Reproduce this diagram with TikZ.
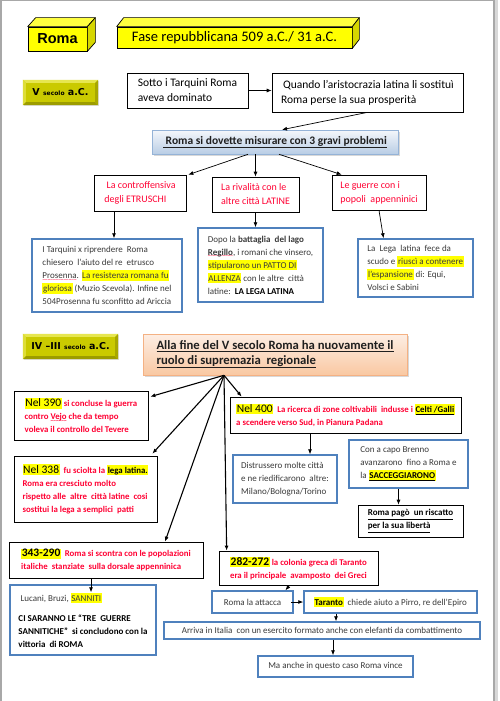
\documentclass[tikz,border=0pt]{standalone}
\usepackage{fontspec}
\setmainfont{Carlito}
\newfontfamily\headfont{Liberation Sans}
\newfontfamily\badgefont{DejaVu Sans}
\usetikzlibrary{arrows.meta,calc,shadows}
\definecolor{CubeYellow}{HTML}{FFFF00}
\definecolor{CubeTop}{HTML}{FFFF40}
\definecolor{CubeSide}{HTML}{D6D600}
\definecolor{OliveFace}{HTML}{CACA00}
\definecolor{OliveLight}{HTML}{E6E650}
\definecolor{OliveDark}{HTML}{9C9C00}
\definecolor{FrameBlue}{HTML}{4F81BD}
\definecolor{AlertRed}{HTML}{FF0033}
\definecolor{MarkYellow}{HTML}{FFFF00}
\definecolor{BodyGray}{HTML}{3A3A3A}
\definecolor{SkyTop}{HTML}{F4F7FB}
\definecolor{SkyBottom}{HTML}{B9CDE5}
\definecolor{SkyLine}{HTML}{95B3D7}
\definecolor{PeachTop}{HTML}{FDEEE4}
\definecolor{PeachBottom}{HTML}{F9C8A2}
\definecolor{PeachLine}{HTML}{F4B183}
\definecolor{PageGray}{HTML}{A8A8A8}

\newcommand{\hlt}[1]{{\setlength{\fboxsep}{0.6pt}\colorbox{MarkYellow}{\vphantom{Ày}#1}}}
\newcommand{\yearmark}[1]{\hlt{\textcolor{black}{\mdseries\fontsize{11.5}{13}\selectfont #1}}}
\newcommand{\yearbold}[1]{\hlt{\textcolor{black}{\bfseries\fontsize{11.5}{13}\selectfont #1}}}
\newcommand{\redwave}[1]{\leavevmode{\setbox0=\hbox{#1}\rlap{\textcolor{AlertRed}{\lower2.8pt\hbox to\wd0{\xleaders\hbox{\fontsize{5}{5}\selectfont\char"7E}\hfill}}}\box0}}

\begin{document}
\begin{tikzpicture}[x=1pt, y=-1pt,
    every node/.style={inner sep=0pt},
    cube/.style={draw, line width=0.7pt, fill=CubeYellow},
    bevel/.style={fill=OliveFace, drop shadow={shadow xshift=1.2pt, shadow yshift=-1.2pt, opacity=0.25}, font=\badgefont\bfseries\fontsize{9.5}{11}\selectfont},
    plainbox/.style={draw, line width=0.7pt, align=left, font=\fontsize{11.5}{15}\selectfont},
    topicbox/.style={draw, line width=0.7pt, align=left, text=AlertRed, font=\fontsize{10}{14}\selectfont},
    notebox/.style={draw=FrameBlue, line width=1.5pt, align=left, text=BodyGray, font=\fontsize{9}{13}\selectfont},
    eventbox/.style={draw, line width=0.7pt, align=left, text=AlertRed, font=\bfseries\fontsize{8.8}{13}\selectfont},
    arr/.style={-{Latex[length=5pt,width=4pt]}, line width=0.7pt},
    fan/.style={arr, line width=1.1pt}
  ]
    \useasboundingbox (0,0) rectangle (500,701);
    \fill[white] (0,0) rectangle (500,701);
    \fill[PageGray!45] (494,0) rectangle (498,701);
    \draw[PageGray, line width=1.5pt] (0.75,701) -- (0.75,0.75) -- (494,0.75) -- (494,701);

    % titles
    \node[cube, minimum width=59, minimum height=24, font=\headfont\bfseries\fontsize{14.5}{16}\selectfont] (roma) at (57.5,39) {Roma};
    \node[cube, minimum width=235, minimum height=21, font=\fontsize{14.5}{16}\selectfont] (fase) at (234.5,37.5) {Fase repubblicana 509 a.C./ 31 a.C.};
    \foreach \b/\dx/\dy in {roma/8/-9, fase/7/-9} {
      \filldraw[fill=CubeTop, line width=0.7pt, line join=round] (\b.north west) -- ++(\dx,\dy) -- ($(\b.north east)+(\dx,\dy)$) -- (\b.north east) -- cycle;
      \filldraw[fill=CubeSide, line width=0.7pt, line join=round] (\b.north east) -- ++(\dx,\dy) -- ($(\b.south east)+(\dx,\dy)$) -- (\b.south east) -- cycle;
    }

    \node[bevel, minimum width=75, minimum height=25] (vsec) at (60.5,92.5) {V {\fontsize{6}{7}\selectfont secolo} a.C.};
    \node[bevel, minimum width=95, minimum height=25] (ivsec) at (70.5,346.5) {IV –III {\fontsize{6}{7}\selectfont secolo} a.C.};
    \foreach \b in {vsec,ivsec} {
      \fill[OliveLight] (\b.north west) -- (\b.north east) -- ($(\b.north east)+(-3,3)$) -- ($(\b.north west)+(3,3)$) -- cycle;
      \fill[OliveLight!70!OliveFace] (\b.north west) -- ($(\b.north west)+(3,3)$) -- ($(\b.south west)+(3,-3)$) -- (\b.south west) -- cycle;
      \fill[OliveDark] (\b.south west) -- ($(\b.south west)+(3,-3)$) -- ($(\b.south east)+(-3,-3)$) -- (\b.south east) -- cycle;
      \fill[OliveDark!75!OliveFace] (\b.north east) -- (\b.south east) -- ($(\b.south east)+(-3,-3)$) -- ($(\b.north east)+(-3,3)$) -- cycle;
    }

    % V secolo
    \node[plainbox, minimum width=121, minimum height=35] (sotto) at (187.5,90.5) {Sotto i Tarquini Roma\\aveva dominato};
    \node[plainbox, minimum width=191, minimum height=39] (quando) at (367.5,92.5) {\,Quando l’aristocrazia latina li sostituì\\Roma perse la sua prosperità};
    \node[draw=SkyLine, line width=0.6pt, top color=SkyTop, bottom color=SkyBottom, drop shadow={shadow xshift=1.5pt, shadow yshift=-1.5pt, opacity=0.3}, minimum width=246, minimum height=24, text=black!88, font=\bfseries\fontsize{11.5}{13}\selectfont] (problemi) at (275,142) {\underline{\ Roma si dovette misurare con 3 gravi problemi}};

    \node[topicbox, minimum width=92, minimum height=36] (contro) at (140,193) {\ La controffensiva\\degli ETRUSCHI};
    \node[topicbox, minimum width=87, minimum height=35] (rival) at (255.5,194.5) {La rivalità con le\\altre città LATINE};
    \node[topicbox, minimum width=94, minimum height=35] (guerre) at (379,192.5) {Le guerre con i\\popoli\ \ appenninici};

    \node[notebox, minimum width=150, minimum height=73] (tarq) at (107,275.5) {I Tarquini x riprendere\ \ Roma\\chiesero\ \ l’aiuto del re\ \ etrusco\\\redwave{Prosenna}. \hlt{La resistenza romana fu}\\\hlt{gloriosa} (Muzio Scevola). Infine nel\\504Prosenna fu sconfitto ad Ariccia};
    \node[notebox, minimum width=125, minimum height=74] (regillo) at (260.5,265) {Dopo la \textbf{battaglia\ \ del lago}\\\redwave{\textbf{Regillo}}, i romani che vinsero,\\\hlt{stipularono un PATTO DI}\\\hlt{ALLENZA} con le altre\ \ città\\latine:\ \ \textbf{\textcolor{black}{LA LEGA LATINA}}};
    \node[notebox, minimum width=115, minimum height=58] (lega) at (415.5,268) {La\ \ Lega\ \ latina\ \ fece da\\scudo e \hlt{riuscì a contenere}\\\hlt{l’espansione} di: Equi,\\Volsci e Sabini};

    \draw[arr] (sotto.east) -- (quando.west |- sotto.east);
    \draw[arr] (quando.south) -- ($(problemi.north)+(7,0)$);
    \draw[arr] ($(problemi.south)+(-27,0)$) -- ($(contro.north east)+(2,0)$);
    \draw[arr] (problemi.south -| rival.north) -- (rival.north);
    \draw[arr] ($(problemi.south)+(4,0)$) -- ($(guerre.north west)+(10,0)$);
    \draw[arr] ($(contro.south)+(-26,0)$) -- ($(tarq.north)+(7,0)$);
    \draw[arr] (rival.south) -- (rival.south |- regillo.north);
    \draw[arr] (guerre.south) -- ($(lega.north)+(-32,0)$);

    % IV-III secolo
    \node[draw=PeachLine, line width=0.6pt, top color=PeachTop, bottom color=PeachBottom, drop shadow={shadow xshift=1.5pt, shadow yshift=-1.5pt, opacity=0.3}, minimum width=264, minimum height=41, align=left, text=black!88, font=\bfseries\fontsize{12.7}{14.5}\selectfont] (alla) at (275,354.5) {\underline{Alla fine del V secolo Roma ha nuovamente il}\\\underline{ruolo di supremazia\ \ regionale}};

    \node[eventbox, minimum width=134, minimum height=49] (n390) at (81,415.5) {\yearmark{Nel 390} si concluse la guerra\\contro \redwave{Vejo} che da tempo\\voleva il controllo del Tevere};
    \node[eventbox, minimum width=143, minimum height=66] (n338) at (85.5,489) {\yearmark{Nel 338}\ \ fu sciolta la \hlt{\textcolor{black}{lega latina.}}\\Roma era cresciuto molto\\rispetto alle\ \ altre\ \ città latine\ \ cosi\\sostitui la lega a semplici\ \ patti};
    \node[eventbox, minimum width=231, minimum height=36] (n400) at (345.5,415) {\yearmark{Nel 400}\ \ La ricerca di zone coltivabili\ \ indusse i \hlt{\textcolor{black}{\underline{Celti /Galli}}}\\a scendere verso Sud, in Pianura Padana};
    \node[notebox, minimum width=104, minimum height=48] (distr) at (285,479) {Distrussero molte città\\e ne riedificarono\ \ altre:\\Milano/Bologna/Torino};
    \node[notebox, minimum width=119, minimum height=48] (brenno) at (408.5,464) {Con a capo Brenno\\avanzarono\ \ fino a Roma e\\la \hlt{\textbf{\textcolor{black}{\underline{SACCEGGIARONO}}}}};
    \node[draw, line width=0.7pt, align=left, minimum width=105, minimum height=32, font=\bfseries\fontsize{9}{13}\selectfont] (pago) at (410.5,521) {\underline{Roma pagò\ \ un riscatto}\\\underline{per la sua libertà}};
    \node[eventbox, minimum width=194, minimum height=36] (n343) at (106,560) {\yearbold{343-290}\ \ Roma si scontra con le popolazioni\\italiche\ \ stanziate\ \ sulla dorsale appenninica};
    \node[notebox, minimum width=146, minimum height=70] (lucani) at (83,620) {\ Lucani, Bruzi, \hlt{SANNITI}\\[7pt]\textcolor{black}{\textbf{CI SARANNO LE “TRE\ \ GUERRE}}\\\textcolor{black}{\textbf{SANNITICHE”\ \ si concludono con la}}\\\textcolor{black}{\textbf{vittoria\ \ di ROMA}}};
    \node[eventbox, minimum width=159, minimum height=34] (n282) at (298.5,568) {\yearbold{282-272} la colonia greca di Taranto\\era il principale\ \ avamposto\ \ dei Greci};
    \node[notebox, minimum width=81, minimum height=22] (attacca) at (252.5,602) {Roma la attacca};
    \node[notebox, minimum width=173, minimum height=22] (taranto) at (390.5,602) {\hlt{\textbf{\textcolor{black}{Taranto}}}\ \ chiede aiuto a Pirro, re dell’Epiro};
    \node[notebox, minimum width=316, minimum height=17] (arriva) at (322,630.5) {Arriva in Italia\ \ con un esercito formato anche con elefanti da combattimento};
    \node[notebox, minimum width=155, minimum height=21] (maanche) at (335.5,666.5) {Ma anche in questo caso Roma vince};

    \coordinate (apex) at ($(alla.south)+(-51,0)$);
    \foreach \n/\dx/\dy in {n390.north east/2/6, n338.north east/-5/-2, n343.north/59/0, n282.north west/8/0, n400.north west/12/0}
      \draw[fan] (apex) -- ($(\n)+(\dx,\dy)$);

    \draw[arr] ($(n400.south)+(-35.5,0)$) -- ($(distr.north)+(25,0)$);
    \draw[arr] ($(brenno.south)+(-10,0)$) -- ($(pago.north)+(-12,0)$);
    \draw[arr] ($(n343.south)+(-15,0)$) -- ($(lucani.north)+(8,8)$);
    \draw[arr] ($(n282.south)+(-9,0)$) -- ($(attacca.north)+(33,0)$);
    \draw[arr] ($(attacca.east)+(-3,0)$) -- (taranto.west);
    \draw[arr] ($(taranto.south)+(-54.5,0)$) -- ($(arriva.north)+(14,0)$);
    \draw[arr] ($(arriva.south)+(11,0)$) -- ($(maanche.north)+(-2.5,0)$);
  \end{tikzpicture}
\end{document}
